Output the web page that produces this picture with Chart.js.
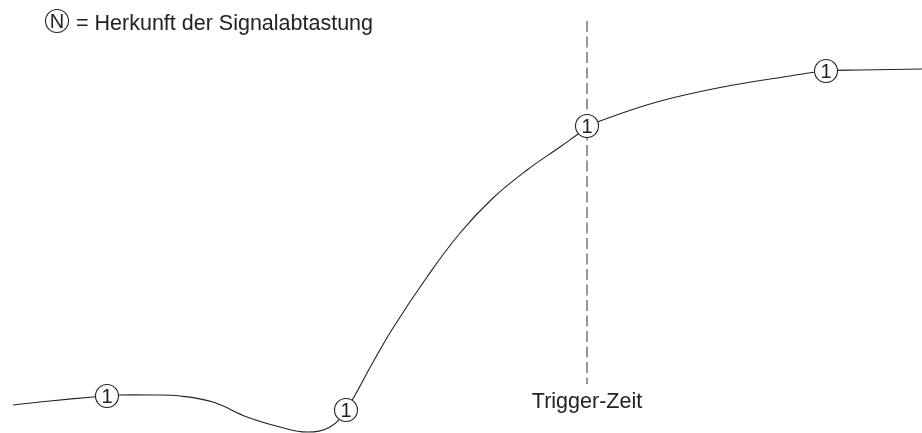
<!DOCTYPE html>
<html>
<head>
<meta charset="utf-8">
<script src="https://cdn.jsdelivr.net/npm/chart.js@4/dist/chart.umd.min.js"></script>
<style>
  html, body { margin: 0; padding: 0; background: #fff; }
  #wrap { position: relative; width: 922px; height: 433px; }
</style>
</head>
<body>
<div id="wrap"><canvas id="signalChart" width="922" height="433"></canvas></div>
<script>
// Signal curve (time, level)
var curveTime  = [13, 50, 93, 107, 120, 150, 180, 213, 247, 280, 307, 330, 346, 372, 393, 427, 460, 493, 527, 560, 587, 600, 657, 723, 790, 826, 860, 922];
var curveLevel = [28, 32, 36, 37, 38, 38, 37, 31, 16, 6, 1, 6, 23, 69, 105, 156, 200, 235, 263, 286, 305, 312, 331, 346, 357, 362, 363, 364];

// Sampling points
var sampleTime  = [107, 346, 587, 826];
var sampleLevel = [37, 23, 307, 362];
var sampleLabel = ['1', '1', '1', '1'];

// Trigger
var triggerTime = 587;
var triggerLabel = 'Trigger-Zeit';
var legendSymbol = 'N';
var legendText = '= Herkunft der Signalabtastung';

var FONT = '"Liberation Sans", Arial, sans-serif';

function toPoints(xs, ys)
{
	var pts = [];
	for (var i = 0; i < xs.length; i++) pts.push({x: xs[i], y: ys[i]});
	return pts;
}

// Dashed trigger line, circle labels and legend
var annotations = {
	id: 'annotations',
	beforeDatasetsDraw: function(chart)
	{
		var ctx = chart.ctx;
		var x = chart.scales.x.getPixelForValue(triggerTime);
		ctx.save();
		ctx.strokeStyle = '#555';
		ctx.lineWidth = 1.2;
		ctx.setLineDash([11, 4.5]);
		ctx.beginPath();
		ctx.moveTo(x, 21);
		ctx.lineTo(x, 384);
		ctx.stroke();
		ctx.restore();
	},
	afterDatasetsDraw: function(chart)
	{
		var ctx = chart.ctx;
		ctx.save();
		ctx.fillStyle = '#222';
		ctx.textAlign = 'center';
		ctx.textBaseline = 'middle';
		ctx.font = '20px ' + FONT;
		var meta = chart.getDatasetMeta(1);
		meta.data.forEach(function(pt, i)
		{
			ctx.fillText(sampleLabel[i], pt.x, pt.y + 1);
		});

		// trigger label
		var x = chart.scales.x.getPixelForValue(triggerTime);
		ctx.textBaseline = 'alphabetic';
		ctx.font = '21.5px ' + FONT;
		ctx.fillText(triggerLabel, x, 408);

		// legend
		ctx.strokeStyle = '#222';
		ctx.lineWidth = 1.1;
		ctx.beginPath();
		ctx.arc(57, 21, 11.5, 0, Math.PI * 2);
		ctx.stroke();
		ctx.font = '20px ' + FONT;
		ctx.textAlign = 'center';
		ctx.textBaseline = 'middle';
		ctx.fillText(legendSymbol, 57, 22);
		ctx.font = '21.5px ' + FONT;
		ctx.textAlign = 'left';
		ctx.textBaseline = 'alphabetic';
		ctx.fillText(legendText, 76, 30);
		ctx.restore();
	}
};

var ctx = document.getElementById('signalChart').getContext('2d');

var signalChart = new Chart(ctx, {
	type: 'line',
	data: {
		datasets: [{
			data: toPoints(curveTime, curveLevel),
			borderColor: '#222',
			borderWidth: 1.1,
			pointRadius: 0,
			tension: 0.4,
			fill: false,
			order: 2
		}, {
			type: 'scatter',
			data: toPoints(sampleTime, sampleLevel),
			pointStyle: 'circle',
			pointRadius: 11.5,
			pointBackgroundColor: '#fff',
			pointBorderColor: '#222',
			pointBorderWidth: 1.1,
			order: 1
		}]
	},
	options: {
		responsive: false,
		animation: false,
		layout: { padding: 0, autoPadding: false },
		plugins: {
			legend: { display: false },
			tooltip: { enabled: false }
		},
		scales: {
			x: { type: 'linear', min: 0, max: 922, display: false },
			y: { type: 'linear', min: 0, max: 433, display: false }
		}
	},
	plugins: [annotations]
});
</script>
</body>
</html>
